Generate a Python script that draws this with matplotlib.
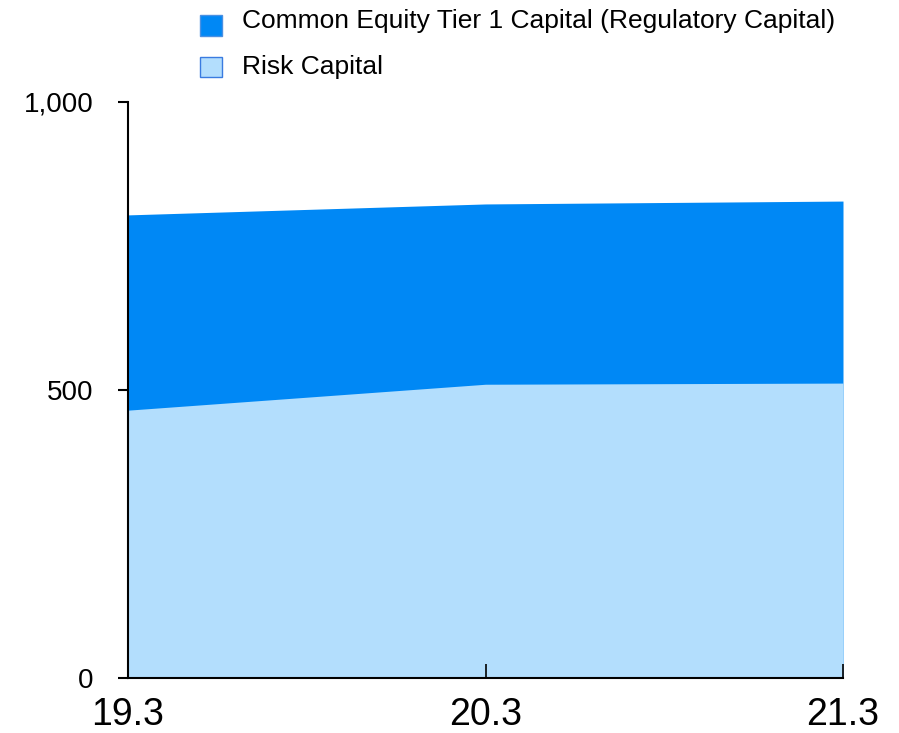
import matplotlib
matplotlib.use('Agg')
from matplotlib import pyplot as plt
from matplotlib.patches import Rectangle

# data
periods = ['19.3', '20.3', '21.3']
risk_capital = [465, 510, 512]
cet1_capital = [804, 823, 828]
series_labels = ['Common Equity Tier 1 Capital (Regulatory Capital)', 'Risk Capital']

dark_blue = '#0088F5'
light_blue = '#B3DEFD'

plt.rcParams['font.family'] = ['Liberation Sans', 'DejaVu Sans']

W, H = 899, 733
fig = plt.figure(figsize=(W / 100, H / 100), dpi=100)
ax = fig.add_axes([128 / W, 55 / H, 715 / W, 576 / H])

x = list(range(len(periods)))
ax.fill_between(x, 0, cet1_capital, color=dark_blue, lw=0)
ax.fill_between(x, 0, risk_capital, color=light_blue, lw=0)

ax.set_xlim(0, len(periods) - 1)
ax.set_ylim(0, 1000)
ax.set_yticks([0, 500, 1000])
ax.set_yticklabels(['0', '500', '1,000'], fontsize=20)
ax.set_xticks(x)
ax.set_xticklabels(periods, fontsize=27)

ax.spines['top'].set_visible(False)
ax.spines['right'].set_visible(False)
ax.spines['left'].set_linewidth(1.5)
ax.spines['bottom'].set_linewidth(1.5)
ax.tick_params(axis='y', direction='out', length=7, width=1.5, pad=18)
ax.tick_params(axis='x', direction='in', length=10, width=1.2, pad=14)

# legend drawn by hand: patch sits a bit below the text like the original
legend_rows = [(series_labels[0], dark_blue, '#4a90e2', 15, 36, 28),
               (series_labels[1], light_blue, '#3a7be0', 57, 77, 74)]
for label, face, edge, top, bottom, baseline in legend_rows:
    fig.patches.append(Rectangle((200 / W, 1 - bottom / H), 22 / W, (bottom - top) / H,
                                 transform=fig.transFigure, facecolor=face,
                                 edgecolor=edge, lw=1))
    fig.text(242 / W, 1 - baseline / H, label, fontsize=19, va='baseline', ha='left')

fig.savefig('out.png', dpi=100)
